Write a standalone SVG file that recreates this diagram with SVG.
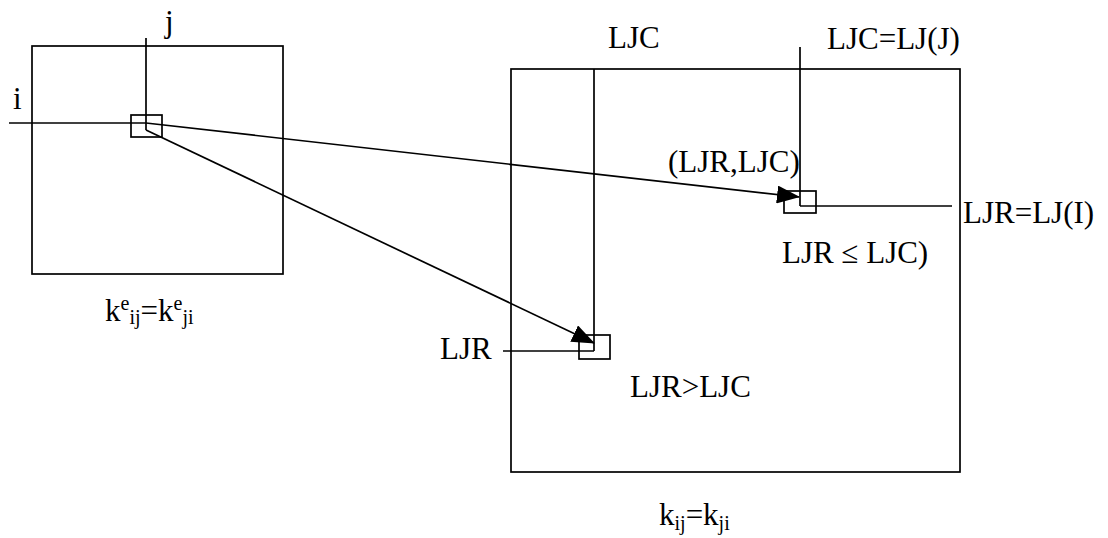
<svg xmlns="http://www.w3.org/2000/svg" width="1108" height="538" viewBox="0 0 1108 538">
<style>
.ln{stroke:#000;stroke-width:1.7;fill:none}
.t{font-family:"Liberation Serif","Times New Roman",serif;font-size:31px;fill:#000}
.s{font-size:20px}
</style>
<defs>
<marker id="ah" markerUnits="userSpaceOnUse" markerWidth="23" markerHeight="18" refX="22" refY="9" orient="auto">
<path d="M0,0 L23,9 L0,18 z" fill="#000"/>
</marker>
</defs>
<rect width="1108" height="538" fill="#fff"/>
<g id="element-matrix">
<rect class="ln" x="32" y="46" width="251" height="228"/>
<rect class="ln" x="131" y="115" width="31" height="22"/>
<line class="ln" x1="9" y1="123" x2="146" y2="123"/>
<line class="ln" x1="146" y1="38" x2="146" y2="130"/>
<text class="t" x="13" y="109">i</text>
<text class="t" x="165" y="32">j</text>
<text class="t" x="105" y="321">k<tspan class="s" dy="-11">e</tspan><tspan class="s" dy="14">ij</tspan><tspan dy="-3">=k</tspan><tspan class="s" dy="-11">e</tspan><tspan class="s" dy="14">ji</tspan></text>
</g>
<g id="global-matrix">
<rect class="ln" x="511" y="69" width="449" height="403"/>
<text class="t" x="659" y="525">k<tspan class="s" dy="5">ij</tspan><tspan dy="-5">=k</tspan><tspan class="s" dy="5">ji</tspan></text>
</g>
<g id="entry-lower">
<line class="ln" x1="594" y1="69" x2="594" y2="351"/>
<line class="ln" x1="503" y1="351" x2="594" y2="351"/>
<rect class="ln" x="579" y="335" width="31" height="24"/>
<text class="t" x="608" y="48">LJC</text>
<text class="t" x="440" y="359">LJR</text>
<text class="t" x="630" y="397">LJR&gt;LJC</text>
</g>
<g id="entry-upper">
<line class="ln" x1="800" y1="47" x2="800" y2="206"/>
<line class="ln" x1="800" y1="206" x2="952" y2="206"/>
<rect class="ln" x="784" y="191" width="32" height="22"/>
<text class="t" x="827" y="49">LJC=LJ(J)</text>
<text class="t" x="668" y="172">(LJR,LJC)</text>
<text class="t" x="963" y="223">LJR=LJ(I)</text>
<text class="t" x="782" y="263">LJR ≤ LJC)</text>
</g>
<g id="connectors">
<line class="ln" x1="146" y1="123" x2="799" y2="197" marker-end="url(#ah)"/>
<line class="ln" x1="146" y1="130" x2="594" y2="343" marker-end="url(#ah)"/>
</g>
</svg>
